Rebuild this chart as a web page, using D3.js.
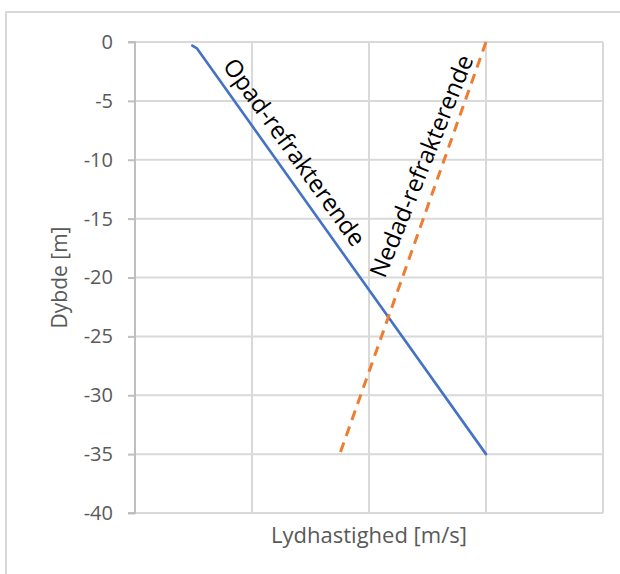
<!DOCTYPE html>
<html lang="da">
<head>
<meta charset="UTF-8">
<title>Lydhastighed</title>
<script src="https://d3js.org/d3.v7.min.js"></script>
<style>
  body{margin:0;background:#fff;}
  svg{display:block;font-family:"Open Sans",sans-serif;}
</style>
</head>
<body>
<div id="chart"></div>
<script>
// data (x axis has no labels, units 0..4 between gridlines)
const yTicks = [0,-5,-10,-15,-20,-25,-30,-35,-40];
const xTicks = [0,1,2,3,4];
const opadSpeed = [0.49,0.53,3.0];
const opadDepth = [-0.3,-0.55,-35];
const nedadSpeed = [3.0,1.75];
const nedadDepth = [0,-35];
const labels = ['Opad-refrakterende','Nedad-refrakterende'];

const width = 620, height = 574;
const margin = {left:135, right:17, top:42, bottom:61};

const svg = d3.select('#chart').append('svg')
    .attr('width',width).attr('height',height);

// chart frame
svg.append('rect')
    .attr('x',6).attr('y',12)
    .attr('width',width+10).attr('height',height+10)
    .attr('fill','none').attr('stroke','#d9d9d9').attr('stroke-width',2);

const x = d3.scaleLinear().domain([0,4]).range([margin.left,width-margin.right]);
const y = d3.scaleLinear().domain([0,-40]).range([margin.top,height-margin.bottom]);

// gridlines
svg.append('g').selectAll('line').data(yTicks).join('line')
    .attr('x1',x(0)).attr('x2',x(4))
    .attr('y1',d=>y(d)).attr('y2',d=>y(d))
    .attr('stroke','#d9d9d9').attr('stroke-width',2);
svg.append('g').selectAll('line').data(xTicks).join('line')
    .attr('x1',d=>x(d)).attr('x2',d=>x(d))
    .attr('y1',y(0)).attr('y2',y(-40))
    .attr('stroke','#d9d9d9').attr('stroke-width',2);

// y axis
const yAxis = svg.append('g')
    .attr('transform',`translate(${x(0)},0)`)
    .call(d3.axisLeft(y).tickValues(yTicks).tickSize(7).tickPadding(15).tickFormat(d3.format('d')));
yAxis.select('.domain').attr('stroke','#bfbfbf').attr('stroke-width',2).attr('d',`M-7,${y(0)}H0V${y(-40)}H-7`);
yAxis.selectAll('.tick line').attr('stroke','#bfbfbf').attr('stroke-width',2);
yAxis.selectAll('.tick text')
    .attr('fill','#595959').attr('font-size','20px')
    .attr('font-family','"Open Sans",sans-serif')
    .text(d=>d===0?'0':'-'+Math.abs(d));

// axis titles
svg.append('text')
    .attr('transform',`translate(67,${(y(0)+y(-40))/2}) rotate(-90)`)
    .attr('text-anchor','middle')
    .attr('fill','#595959').attr('font-size','21px')
    .text('Dybde [m]');
svg.append('text')
    .attr('x',(x(0)+x(4))/2).attr('y',543)
    .attr('text-anchor','middle')
    .attr('fill','#595959').attr('font-size','22px')
    .text('Lydhastighed [m/s]');

// series
const line = d3.line().x(d=>x(d[0])).y(d=>y(d[1]));
svg.append('path')
    .attr('d',line(d3.zip(opadSpeed,opadDepth)))
    .attr('fill','none').attr('stroke','#4472c4')
    .attr('stroke-width',2.6).attr('stroke-linecap','round');
svg.append('path')
    .attr('d',line(d3.zip(nedadSpeed,nedadDepth)))
    .attr('fill','none').attr('stroke','#ed7d31')
    .attr('stroke-width',3).attr('stroke-dasharray','10,7');

// in-plot labels
svg.append('text')
    .attr('transform',`translate(${x(1.37)},${y(-9.3)}) rotate(54.3)`)
    .attr('text-anchor','middle').attr('dominant-baseline','central')
    .attr('fill','#000').attr('font-size','24px')
    .text(labels[0]);
svg.append('text')
    .attr('transform',`translate(${x(2.44)},${y(-10.5)}) rotate(-68)`)
    .attr('text-anchor','middle').attr('dominant-baseline','central')
    .attr('fill','#000').attr('font-size','24px')
    .text(labels[1]);
</script>
</body>
</html>
